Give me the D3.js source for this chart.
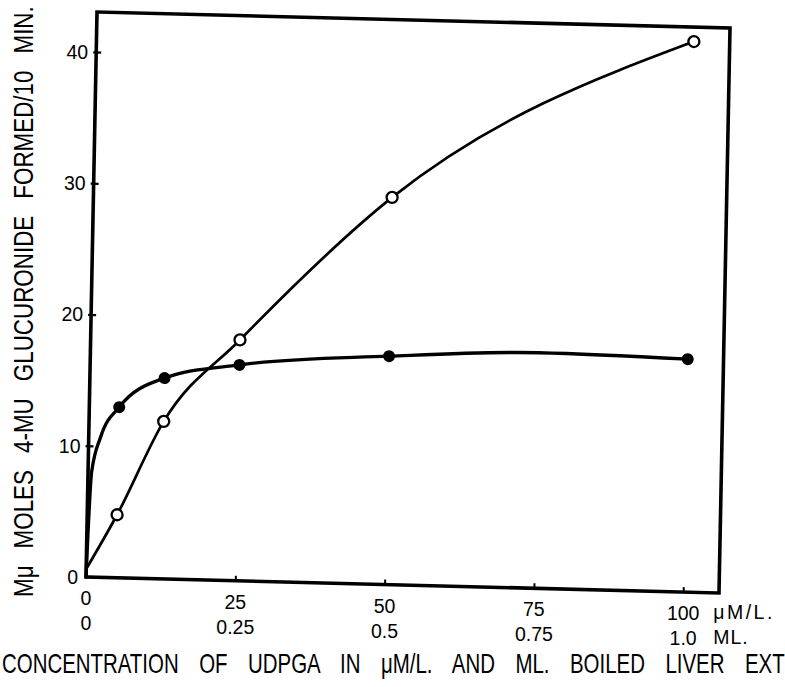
<!DOCTYPE html>
<html>
<head>
<meta charset="utf-8">
<script src="https://cdn.jsdelivr.net/npm/d3@7"></script>
<style>
  html, body { margin: 0; padding: 0; background: #fff; }
  svg { display: block; }
  text { font-family: "Liberation Sans", Arial, Helvetica, sans-serif; fill: #000; }
</style>
</head>
<body>
<svg id="chart" width="785" height="687"></svg>
<script>
// ---------------- data ----------------
const xValues      = [5, 12.5, 25, 50, 100];           // µM/L UDPGA
const openValues   = [4.8, 12.0, 18.35, 29.5, 41.95];  // open circles
const filledValues = [13.0, 15.3, 16.45, 17.4, 17.75]; // filled circles
// unmarked points on the drawn curves (lead-in from the origin, bend)
const openLeadX   = [0];
const openLeadY   = [0.6];
const filledLeadX = [0, 0.6, 2.0];
const filledLeadY = [0, 8.0, 10.7];
const filledBendX = [75];
const filledBendY = [17.95];

const yTickValues   = [10, 20, 30, 40];
const yLabelValues  = [0, 10, 20, 30, 40];
const yLabels       = ["0", "10", "20", "30", "40"];
const xTickValues   = [25, 50, 75, 100];
const xLabelValues  = [0, 25, 50, 75, 100];
const xLabelsRow1   = ["0", "25", "50", "75", "100"];
const xLabelsRow2   = ["0", "0.25", "0.5", "0.75", "1.0"];
const unitRow1 = "\u03BCM/L.";
const unitRow2 = "ML.";
const xTitle = "CONCENTRATION OF UDPGA IN \u03BCM/L. AND ML. BOILED LIVER EXT";
const yTitle = "M\u03BC MOLES 4-MU GLUCURONIDE FORMED/10 MIN.";

// ---------------- layout ----------------
const svg = d3.select("#chart");
const W = 633, H = 565;
// the scanned frame is slightly skewed
const M = { a: 1, b: 0.02528, c: -0.01947, d: 1, e: 97, f: 12 };
const toScreen = (lx, ly) => [M.a * lx + M.c * ly + M.e, M.b * lx + M.d * ly + M.f];

const x = d3.scaleLinear().domain([0, 106]).range([0, W]);
const y = d3.scaleLinear().domain([0, 43.05]).range([H, 0]);

const g = svg.append("g")
  .attr("transform", `matrix(${M.a},${M.b},${M.c},${M.d},${M.e},${M.f})`);

// frame
g.append("rect")
  .attr("x", 0).attr("y", 0).attr("width", W).attr("height", H)
  .attr("fill", "none").attr("stroke", "#000").attr("stroke-width", 3.6);

// ticks
const yAx = g.append("g")
  .call(d3.axisLeft(y).tickValues(yTickValues).tickFormat("").tickSizeOuter(0).tickSizeInner(-5));
yAx.select(".domain").remove();
yAx.selectAll(".tick line").attr("x1", -3).attr("stroke", "#000").attr("stroke-width", 2.2);

const xAx = g.append("g").attr("transform", `translate(0,${H})`)
  .call(d3.axisBottom(x).tickValues(xTickValues).tickFormat("").tickSizeOuter(0).tickSizeInner(-5));
xAx.select(".domain").remove();
xAx.selectAll(".tick line").attr("stroke", "#000").attr("stroke-width", 2);

// curves
const line = d3.line().x(d => x(d[0])).y(d => y(d[1])).curve(d3.curveMonotoneX);

const openCurve = openLeadX.map((v, i) => [v, openLeadY[i]])
  .concat(xValues.map((v, i) => [v, openValues[i]]));
const filledCurve = filledLeadX.map((v, i) => [v, filledLeadY[i]])
  .concat(xValues.map((v, i) => [v, filledValues[i]]))
  .concat(filledBendX.map((v, i) => [v, filledBendY[i]]))
  .sort((p, q) => p[0] - q[0]);

g.append("path").datum(filledCurve).attr("d", line)
  .attr("fill", "none").attr("stroke", "#000").attr("stroke-width", 3.3)
  .attr("stroke-linejoin", "round").attr("stroke-linecap", "round");
g.append("path").datum(openCurve).attr("d", line)
  .attr("fill", "none").attr("stroke", "#000").attr("stroke-width", 2.7)
  .attr("stroke-linejoin", "round").attr("stroke-linecap", "round");

// markers
g.selectAll("circle.filled").data(xValues).join("circle")
  .attr("class", "filled")
  .attr("cx", (d) => x(d)).attr("cy", (d, i) => y(filledValues[i]))
  .attr("r", 6).attr("fill", "#000");
g.selectAll("circle.open").data(xValues).join("circle")
  .attr("class", "open")
  .attr("cx", (d) => x(d)).attr("cy", (d, i) => y(openValues[i]))
  .attr("r", 5.5).attr("fill", "#fff").attr("stroke", "#000").attr("stroke-width", 2.3);

const tickFont = 19.5;
// y tick labels
yLabelValues.forEach((v, i) => {
  const p = toScreen(-8, y(v));
  svg.append("text").attr("x", p[0]).attr("y", p[1]).attr("dy", "0.36em")
    .attr("text-anchor", "end").attr("font-size", tickFont).text(yLabels[i]);
});

// x tick labels, two rows
xLabelValues.forEach((v, i) => {
  const p = toScreen(x(v), H);
  svg.append("text").attr("x", p[0]).attr("y", p[1] + 21).attr("dy", "0.36em")
    .attr("text-anchor", "middle").attr("font-size", tickFont).text(xLabelsRow1[i]);
  svg.append("text").attr("x", p[0]).attr("y", p[1] + 46).attr("dy", "0.36em")
    .attr("text-anchor", "middle").attr("font-size", tickFont).text(xLabelsRow2[i]);
});
{
  const p = toScreen(x(100), H);
  svg.append("text").attr("x", p[0] + 30).attr("y", p[1] + 20).attr("dy", "0.36em")
    .attr("font-size", tickFont).attr("letter-spacing", 2.5).text(unitRow1);
  svg.append("text").attr("x", p[0] + 30).attr("y", p[1] + 45).attr("dy", "0.36em")
    .attr("font-size", tickFont).attr("letter-spacing", 1).text(unitRow2);
}

// axis titles (condensed glyphs, wide word gaps as in the print)
function spacedTitle(str, transform, scaleX, target) {
  const t = svg.append("text").attr("font-size", 28).text(str);
  const natural = t.node().getComputedTextLength();
  const gaps = str.split(" ").length - 1;
  const ws = Math.max(0, (target / scaleX - natural) / gaps);
  t.style("word-spacing", ws + "px").attr("transform", transform + ` scale(${scaleX},1)`);
  return t;
}
spacedTitle(xTitle, "translate(2,673)", 0.73, 783);
spacedTitle(yTitle, "translate(33,597) rotate(-90)", 0.8, 591);
</script>
</body>
</html>
